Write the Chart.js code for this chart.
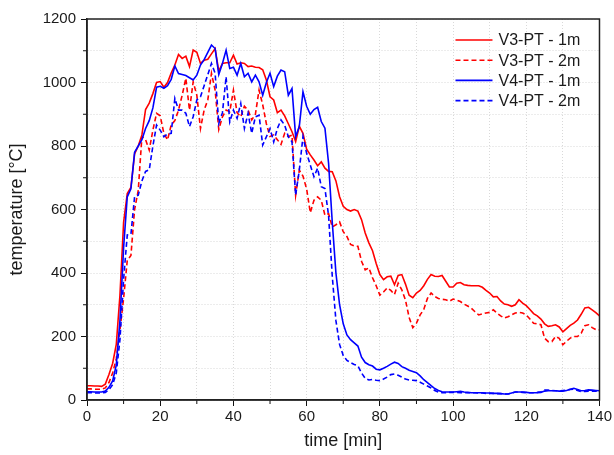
<!DOCTYPE html>
<html>
<head>
<meta charset="utf-8">
<script src="https://cdn.jsdelivr.net/npm/chart.js@4/dist/chart.umd.min.js"></script>
<style>
  html, body { margin: 0; padding: 0; background: #fff; }
  #wrap { width: 614px; height: 455px; }
</style>
</head>
<body>
<div id="wrap"><canvas id="c" width="614" height="455"></canvas></div>
<script>
// time axis, minutes
const minutes = [
  0,1,2,3,4,5,6,7,8,9,10,11,12,13,14,15,16,17,18,19,20,
  21,22,23,24,25,26,27,28,29,30,31,32,33,34,35,36,37,38,39,40,
  41,42,43,44,45,46,47,48,49,50,51,52,53,54,55,56,57,58,59,60,
  61,62,63,64,65,66,67,68,69,70,71,72,73,74,75,76,77,78,79,80,
  81,82,83,84,85,86,87,88,89,90,91,92,93,94,95,96,97,98,99,100,
  101,102,103,104,105,106,107,108,109,110,111,112,113,114,115,116,117,118,119,120,
  121,122,123,124,125,126,127,128,129,130,131,132,133,134,135,136,137,138,139,140
];

// V3-PT, 1 m
const v3_1m = [
  45,45,44,44,43,50,80,115,175,330,560,
  650,670,775,800,835,915,935,965,1000,1003,
  985,1000,1030,1055,1088,1076,1083,1050,1102,1095,
  1060,1070,1073,1090,1107,1036,1060,1062,1062,1086,
  1058,1062,1060,1050,1052,1048,1047,1040,1008,955,
  945,905,913,895,870,845,814,862,840,790,
  772,756,738,750,730,720,719,690,640,610,
  600,595,600,595,568,526,495,470,430,395,
  379,388,390,363,392,395,365,330,322,337,
  345,360,380,395,390,389,392,374,356,356,
  368,370,363,361,360,360,360,355,345,337,
  325,326,312,302,300,295,300,316,305,297,
  285,272,265,255,240,232,234,237,230,215,
  225,235,242,252,270,290,292,284,275,265
];

// V3-PT, 2 m
const v3_2m = [
  35,35,34,34,34,38,55,85,130,220,320,
  440,455,600,660,830,820,787,850,903,895,
  840,819,866,880,913,960,1013,913,1002,960,
  855,913,945,1029,976,852,892,913,908,976,
  905,892,925,913,882,900,976,930,870,830,
  835,820,805,840,830,834,645,724,705,665,
  590,629,640,629,582,587,545,552,561,530,
  515,490,485,484,437,410,416,385,360,330,
  340,353,345,332,368,347,315,260,228,242,
  268,285,320,337,326,320,317,316,311,318,
  314,310,302,296,289,278,268,271,274,276,
  284,274,265,258,262,268,274,276,274,268,
  255,242,240,237,195,184,184,200,194,174,
  185,195,200,200,210,234,237,228,222,221
];

// V4-PT, 1 m
const v4_1m = [
  26,26,25,25,25,28,40,60,110,250,480,
  640,665,780,800,820,855,880,920,985,988,
  982,990,1010,1052,1028,1025,1022,1015,1008,1023,
  1055,1072,1095,1118,1107,1025,1060,1102,1044,1048,
  1023,1060,1018,1029,1002,1023,1002,960,1000,1029,
  987,1020,1039,1034,960,981,829,862,971,925,
  900,915,922,877,856,745,560,400,300,240,
  205,190,180,170,135,118,111,107,97,95,
  100,106,113,119,115,105,100,94,90,86,
  76,64,55,45,36,30,26,25,25,25,
  26,27,25,24,23,23,23,23,22,22,
  21,21,20,19,19,22,25,25,25,24,
  23,23,23,24,28,29,29,29,28,28,
  30,34,37,33,29,30,32,31,30,29
];

// V4-PT, 2 m
const v4_2m = [
  23,23,22,22,22,24,32,48,85,190,380,
  520,522,640,645,690,720,725,800,866,850,
  829,838,840,950,913,913,903,861,892,945,
  955,990,1025,1060,1029,871,905,1018,876,913,
  887,934,855,903,840,892,897,803,829,855,
  813,855,882,866,829,813,645,724,830,777,
  740,703,730,672,666,580,390,250,175,140,
  125,118,112,108,85,68,63,65,62,61,
  66,72,80,82,78,72,66,63,62,61,
  56,50,44,38,30,25,23,23,24,24,
  24,23,23,23,23,23,22,22,21,21,
  21,20,20,19,19,22,25,25,24,23,
  23,23,24,26,31,31,30,29,29,30,
  31,33,34,30,26,27,28,28,28,28
];

const seriesNames = ['V3-PT - 1m', 'V3-PT - 2m', 'V4-PT - 1m', 'V4-PT - 2m'];
const xTicks = [0, 20, 40, 60, 80, 100, 120, 140];
const yTicks = [0, 200, 400, 600, 800, 1000, 1200];

const RED = '#ff0000';
const BLUE = '#0000ff';
const FONT = "'Liberation Sans', Arial, sans-serif";
const TEXT = '#1a1a1a';

function pts(vals) {
  return vals.map((v, i) => ({ x: minutes[i], y: v }));
}

// minor ticks (unlabelled) and the closed plot frame
const framePlugin = {
  id: 'frame',
  afterDraw(chart) {
    const { ctx, chartArea: a, scales: { x, y } } = chart;
    ctx.save();
    ctx.strokeStyle = '#111';
    ctx.lineWidth = 1;
    for (let v = x.min; v <= x.max; v += 10) {
      if (xTicks.includes(v)) continue;
      const px = x.getPixelForValue(v);
      ctx.beginPath(); ctx.moveTo(px, a.bottom); ctx.lineTo(px, a.bottom + 4); ctx.stroke();
    }
    for (let v = y.min; v <= y.max; v += 100) {
      if (yTicks.includes(v)) continue;
      const py = y.getPixelForValue(v);
      ctx.beginPath(); ctx.moveTo(a.left - 4, py); ctx.lineTo(a.left, py); ctx.stroke();
    }
    ctx.lineWidth = 1.5;
    ctx.strokeStyle = '#222';
    ctx.strokeRect(a.left, a.top, a.right - a.left, a.bottom - a.top);
    ctx.restore();
  }
};

// legend in the upper right corner of the plot
const legendPlugin = {
  id: 'cornerLegend',
  afterDraw(chart) {
    const { ctx, chartArea: a } = chart;
    ctx.save();
    ctx.font = '16px ' + FONT;
    ctx.textBaseline = 'middle';
    ctx.fillStyle = TEXT;
    chart.data.datasets.forEach((ds, i) => {
      const yy = a.top + 21 + i * 20.2;
      ctx.strokeStyle = ds.borderColor;
      ctx.lineWidth = ds.borderWidth;
      ctx.setLineDash(ds.borderDash || []);
      ctx.beginPath();
      ctx.moveTo(a.right - 144, yy);
      ctx.lineTo(a.right - 107, yy);
      ctx.stroke();
      ctx.setLineDash([]);
      ctx.fillText(ds.label, a.right - 101, yy + 1);
    });
    ctx.restore();
  }
};

const dataset = (label, vals, color, dashed, order) => ({
  label,
  data: pts(vals),
  borderColor: color,
  backgroundColor: color,
  borderWidth: 1.6,
  borderDash: dashed ? [5, 3] : [],
  pointRadius: 0,
  tension: 0,
  fill: false,
  order
});

new Chart(document.getElementById('c'), {
  type: 'line',
  data: {
    datasets: [
      dataset(seriesNames[0], v3_1m, RED, false, 4),
      dataset(seriesNames[1], v3_2m, RED, true, 3),
      dataset(seriesNames[2], v4_1m, BLUE, false, 2),
      dataset(seriesNames[3], v4_2m, BLUE, true, 1)
    ]
  },
  options: {
    responsive: false,
    animation: false,
    layout: { padding: { left: 0, right: 13, top: 19, bottom: 0 } },
    plugins: {
      legend: { display: false },
      tooltip: { enabled: false }
    },
    scales: {
      x: {
        type: 'linear',
        min: 0,
        max: 140,
        afterFit(s) { s.height = 55; },
        ticks: {
          stepSize: 20,
          padding: 2,
          color: TEXT,
          font: { family: FONT, size: 15 },
          maxRotation: 0,
          autoSkip: false,
          callback: (v) => (xTicks.includes(v) ? String(v) : '')
        },
        grid: {
          color: '#d9d9d9',
          lineWidth: 1,
          borderDash: [1, 2],
          tickColor: (c) => (c.tick && xTicks.includes(c.tick.value) ? '#111' : 'rgba(0,0,0,0)'),
          tickLength: 6,
          tickWidth: 1
        },
        border: { display: true, color: '#222', width: 1.5, dash: [1, 2] },
        afterBuildTicks(s) {
          const t = [];
          for (let v = 0; v <= 140; v += 10) t.push({ value: v });
          s.ticks = t;
        },
        title: {
          display: true,
          text: 'time [min]',
          color: TEXT,
          font: { family: FONT, size: 18 },
          padding: { top: 0, bottom: 3 }
        }
      },
      y: {
        min: 0,
        max: 1200,
        afterFit(s) { s.width = 87; },
        ticks: {
          stepSize: 100,
          padding: 5,
          color: TEXT,
          font: { family: FONT, size: 15 },
          callback: (v) => (yTicks.includes(v) ? String(v) : '')
        },
        grid: {
          color: '#d9d9d9',
          lineWidth: 1,
          borderDash: [1, 2],
          tickColor: (c) => (c.tick && yTicks.includes(c.tick.value) ? '#111' : 'rgba(0,0,0,0)'),
          tickLength: 6,
          tickWidth: 1
        },
        border: { display: true, color: '#222', width: 1.5, dash: [1, 2] },
        title: {
          display: true,
          text: 'temperature [°C]',
          color: TEXT,
          font: { family: FONT, size: 18 },
          padding: { top: 6, bottom: 0 }
        }
      }
    }
  },
  plugins: [framePlugin, legendPlugin]
});
</script>
</body>
</html>
